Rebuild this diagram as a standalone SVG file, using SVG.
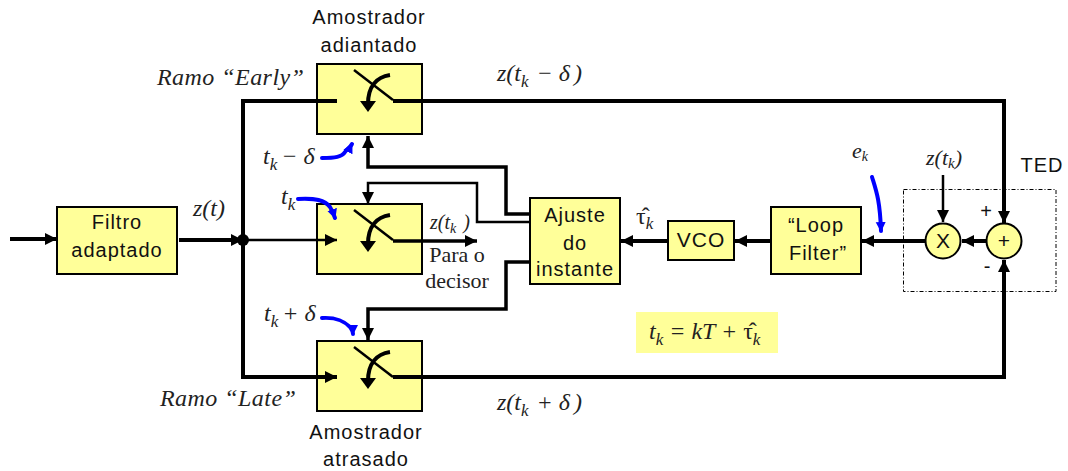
<svg xmlns="http://www.w3.org/2000/svg" width="1068" height="471" viewBox="0 0 1068 471">
<style>
.box{fill:#ffff99;stroke:#000;stroke-width:2}
.s{font-family:"Liberation Sans",Arial,sans-serif;font-size:20px;letter-spacing:1px;fill:#111;text-anchor:middle}
.m{font-family:"Liberation Serif","Times New Roman",serif;font-size:24px;fill:#222;font-style:italic}
.n{font-style:normal}
.r{font-family:"Liberation Serif","Times New Roman",serif;font-size:22px;fill:#222;text-anchor:middle}
.sub{font-size:17px}
.w{fill:none;stroke:#000;stroke-linejoin:miter}
.t4{stroke-width:4}.t3{stroke-width:3.500}.t2{stroke-width:2.500}
.b{fill:none;stroke:#00f;stroke-width:4;stroke-linecap:round}
</style>
<defs>
<marker id="a" markerUnits="userSpaceOnUse" markerWidth="14" markerHeight="14" refX="12" refY="7" orient="auto"><path d="M0 1L12 7L0 13z"/></marker>
<marker id="bl" markerUnits="userSpaceOnUse" markerWidth="12" markerHeight="12" refX="9" refY="6" orient="auto"><path d="M0 1L10 6L0 11z" fill="#00f"/></marker>
<g id="sw">
<rect class="box" x="0" y="0" width="105" height="70"/>
<path class="w t2" d="M37 6L76 36"/>
<path class="w" stroke-width="4" d="M73 11C60 13 51 22 51 40"/>
<path d="M43 37H59L51 48z"/>
</g>
</defs>

<rect id="ted-box" x="903.500" y="189.500" width="152.500" height="102" fill="none" stroke="#000" stroke-width="1" stroke-dasharray="4 2 1 2"/>
<rect id="eq-bg" x="636" y="312" width="142" height="41" fill="#ffff99"/>

<g id="filtro"><rect class="box" x="57" y="207" width="120" height="67"/><text class="s" x="117" y="229">Filtro</text><text class="s" x="117" y="257">adaptado</text></g>
<g id="early"><use href="#sw" x="317" y="64"/></g>
<g id="mid"><use href="#sw" x="317" y="204"/></g>
<g id="late"><use href="#sw" x="317" y="341"/></g>
<g id="ajuste"><rect class="box" x="530" y="198" width="90" height="86"/><text class="s" x="575" y="222">Ajuste</text><text class="s" x="575" y="250">do</text><text class="s" x="575" y="276">instante</text></g>
<g id="vco"><rect class="box" x="668" y="221" width="66" height="39"/><text class="s" x="701" y="247" style="font-size:21px">VCO</text></g>
<g id="loop"><rect class="box" x="771" y="207" width="90" height="67"/><text class="s" x="816" y="232">“Loop</text><text class="s" x="818" y="260">Filter”</text></g>
<g id="mult"><circle class="box" cx="943" cy="241" r="17.500"/><text class="s" x="943" y="248" style="font-size:21px;letter-spacing:0">X</text></g>
<g id="sum"><circle class="box" cx="1004" cy="241" r="17.500"/><text class="s" x="1004" y="248" style="font-size:21px;letter-spacing:0">+</text></g>

<g id="connectors">
<path class="w t4" d="M10 239H57" marker-end="url(#a)"/>
<path class="w t4" d="M179 240H243" marker-end="url(#a)"/>
<path class="w t4" d="M337 101H243V377H337" marker-end="url(#a)"/>
<path class="w t2" d="M243 240H337" marker-end="url(#a)"/>
<path class="w t4" d="M393 101H1004V223" marker-end="url(#a)"/>
<path class="w t3" d="M393 241H477" marker-end="url(#a)"/>
<path class="w t4" d="M393 377H1004V260" marker-end="url(#a)"/>
<path class="w t3" d="M530 214H506V167H368V136" marker-end="url(#a)"/>
<path class="w t2" d="M530 222H477V183H368V204" marker-end="url(#a)"/>
<path class="w t3" d="M530 262H506V309H368V340" marker-end="url(#a)"/>
<path class="w t4" d="M668 241H621" marker-end="url(#a)"/>
<path class="w t4" d="M771 241H735" marker-end="url(#a)"/>
<path class="w t4" d="M925 241H862" marker-end="url(#a)"/>
<path class="w t4" d="M986 241H962" marker-end="url(#a)"/>
<path class="w t2" d="M943 175V222" marker-end="url(#a)"/>
<circle cx="243" cy="240" r="6"/>
<path class="b" d="M322 158C335 158 342 157 345 152C347 149 350 148 352 144" marker-end="url(#bl)"/>
<path class="b" d="M298 199C315 198 325 200 330 207C332 210 333 212 335 218" marker-end="url(#bl)"/>
<path class="b" d="M322 318C338 317 345 322 350 327C352 330 353 331 353 334" marker-end="url(#bl)"/>
<path class="b" d="M872 177C876 190 880 200 881 231" marker-end="url(#bl)"/>
</g>

<g id="labels">
<text class="s" x="369" y="24">Amostrador</text>
<text class="s" x="369" y="52">adiantado</text>
<text class="s" x="366" y="439">Amostrador</text>
<text class="s" x="366" y="466">atrasado</text>
<text class="s" x="1042" y="172">TED</text>
<text class="s" x="986" y="218" style="letter-spacing:0">+</text>
<text class="s" x="987" y="273" style="letter-spacing:0">-</text>
<text class="m" x="157" y="85" style="letter-spacing:.45px">Ramo “Early”</text>
<text class="m" x="160" y="406" style="letter-spacing:.45px">Ramo “Late”</text>
<text class="m" x="497" y="81">z(t<tspan class="sub" dy="6">k</tspan><tspan dy="-6" dx="8">− δ</tspan><tspan dx="4">)</tspan></text>
<text class="m" x="497" y="410">z(t<tspan class="sub" dy="6">k</tspan><tspan dy="-6" dx="8">+ δ</tspan><tspan dx="4">)</tspan></text>
<text class="m" x="193" y="216">z(t)</text>
<text class="m" x="263" y="164">t<tspan class="sub" dy="6">k</tspan><tspan dy="-6" dx="4">− δ</tspan></text>
<text class="m" x="281" y="204">t<tspan class="sub" dy="6">k</tspan></text>
<text class="m" x="264" y="321">t<tspan class="sub" dy="6">k</tspan><tspan dy="-6" dx="4">+ δ</tspan></text>
<text class="m" x="430" y="229" style="font-size:20px">z(t<tspan style="font-size:14px" dy="4">k</tspan><tspan dy="-4" dx="7">)</tspan></text>
<text class="r" x="457" y="262">Para o</text>
<text class="r" x="457" y="288">decisor</text>
<text class="m" x="636" y="224"><tspan class="n">τ̂</tspan><tspan class="sub" dy="5">k</tspan></text>
<text class="m" x="649" y="339">t<tspan class="sub" dy="6">k</tspan><tspan dy="-6" dx="6">= kT + </tspan><tspan class="n">τ̂</tspan><tspan class="sub" dy="6">k</tspan></text>
<text class="m" x="852" y="158" style="font-size:22px">e<tspan style="font-size:14px" dy="3">k</tspan></text>
<text class="m" x="926" y="165" style="font-size:22px">z(t<tspan style="font-size:15px" dy="3">k</tspan><tspan dy="-3">)</tspan></text>
</g>
</svg>
